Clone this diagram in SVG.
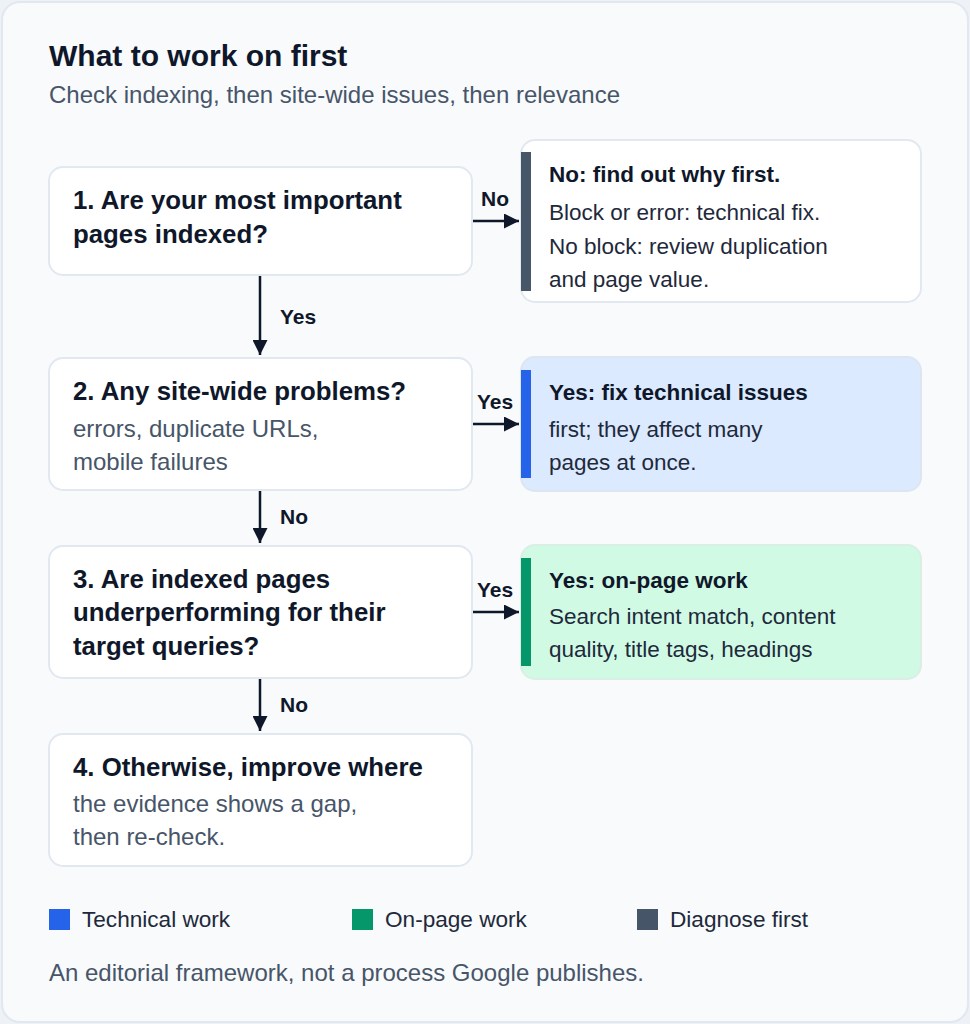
<svg xmlns="http://www.w3.org/2000/svg" width="970" height="1024" viewBox="0 0 970 1024">
<style>
text{font-family:"Liberation Sans",Arial,Helvetica,sans-serif;fill:#0f172a}
.title{font-size:30px;font-weight:700}
.sub{font-size:24px;fill:#475569}
.nt{font-size:25.8px;font-weight:700}
.ns{font-size:24px;fill:#475569}
.bh{font-size:22.5px;font-weight:700}
.bb{font-size:22.5px;fill:#1e293b}
.lbl{font-size:21px;font-weight:700}
.leg{font-size:22.6px;fill:#1e293b}
.foot{font-size:24px;fill:#475569}
.node{fill:#ffffff;stroke:#e2e8f0;stroke-width:2}
.conn{stroke:#0f172a;stroke-width:2.5;fill:none}
</style>
<defs>
<marker id="ah" viewBox="0 0 10 10" refX="10" refY="5" markerWidth="6" markerHeight="6" markerUnits="strokeWidth" orient="auto">
<path d="M0,0 L10,5 L0,10 Z" fill="#0f172a"/>
</marker>
</defs>
<rect x="0" y="0" width="970" height="1024" fill="#eef1f5"/>
<rect x="2" y="2" width="966" height="1020" rx="18" fill="#f8fafc" stroke="#e2e8f0" stroke-width="2"/>
<g id="header">
<text class="title" x="49" y="66">What to work on first</text>
<text class="sub" x="49" y="103">Check indexing, then site-wide issues, then relevance</text>
</g>
<g id="connectors">
<line class="conn" x1="473" y1="221" x2="519" y2="221" marker-end="url(#ah)"/>
<text class="lbl" x="481" y="206">No</text>
<line class="conn" x1="260" y1="276" x2="260" y2="355" marker-end="url(#ah)"/>
<text class="lbl" x="280" y="324">Yes</text>
<line class="conn" x1="473" y1="424" x2="519" y2="424" marker-end="url(#ah)"/>
<text class="lbl" x="477" y="409">Yes</text>
<line class="conn" x1="260" y1="491" x2="260" y2="543" marker-end="url(#ah)"/>
<text class="lbl" x="280" y="524">No</text>
<line class="conn" x1="473" y1="612" x2="519" y2="612" marker-end="url(#ah)"/>
<text class="lbl" x="477" y="597">Yes</text>
<line class="conn" x1="260" y1="679" x2="260" y2="731" marker-end="url(#ah)"/>
<text class="lbl" x="280" y="712">No</text>
</g>
<g id="node1">
<rect class="node" x="49" y="167" width="423" height="108" rx="14"/>
<text class="nt" x="73" y="209">1. Are your most important</text>
<text class="nt" x="73" y="243">pages indexed?</text>
</g>
<g id="node2">
<rect class="node" x="49" y="358" width="423" height="132" rx="14"/>
<text class="nt" x="73" y="400">2. Any site-wide problems?</text>
<text class="ns" x="73" y="437">errors, duplicate URLs,</text>
<text class="ns" x="73" y="470">mobile failures</text>
</g>
<g id="node3">
<rect class="node" x="49" y="546" width="423" height="132" rx="14"/>
<text class="nt" x="73" y="588">3. Are indexed pages</text>
<text class="nt" x="73" y="621">underperforming for their</text>
<text class="nt" x="73" y="655">target queries?</text>
</g>
<g id="node4">
<rect class="node" x="49" y="734" width="423" height="132" rx="14"/>
<text class="nt" x="73" y="776">4. Otherwise, improve where</text>
<text class="ns" x="73" y="812">the evidence shows a gap,</text>
<text class="ns" x="73" y="845">then re-check.</text>
</g>
<g id="outcome1">
<rect x="521" y="140" width="400" height="162" rx="14" fill="#ffffff" stroke="#e2e8f0" stroke-width="2"/>
<rect x="521" y="152" width="10" height="139" fill="#475569"/>
<text class="bh" x="549" y="182">No: find out why first.</text>
<text class="bb" x="549" y="220">Block or error: technical fix.</text>
<text class="bb" x="549" y="254">No block: review duplication</text>
<text class="bb" x="549" y="287">and page value.</text>
</g>
<g id="outcome2">
<rect x="521" y="357" width="400" height="134" rx="14" fill="#dbeafe" stroke="#dde5f0" stroke-width="2"/>
<rect x="521" y="370" width="10" height="108" fill="#2563eb"/>
<text class="bh" x="549" y="400">Yes: fix technical issues</text>
<text class="bb" x="549" y="437">first; they affect many</text>
<text class="bb" x="549" y="470">pages at once.</text>
</g>
<g id="outcome3">
<rect x="521" y="545" width="400" height="134" rx="14" fill="#d1fae5" stroke="#dbeee6" stroke-width="2"/>
<rect x="521" y="558" width="10" height="108" fill="#059669"/>
<text class="bh" x="549" y="588">Yes: on-page work</text>
<text class="bb" x="549" y="624">Search intent match, content</text>
<text class="bb" x="549" y="657">quality, title tags, headings</text>
</g>
<g id="legend">
<rect x="49" y="909" width="21" height="21" fill="#2563eb"/>
<text class="leg" x="82" y="927">Technical work</text>
<rect x="352" y="909" width="21" height="21" fill="#059669"/>
<text class="leg" x="385" y="927">On-page work</text>
<rect x="637" y="909" width="21" height="21" fill="#475569"/>
<text class="leg" x="670" y="927">Diagnose first</text>
</g>
<text class="foot" x="49" y="981">An editorial framework, not a process Google publishes.</text>
</svg>
